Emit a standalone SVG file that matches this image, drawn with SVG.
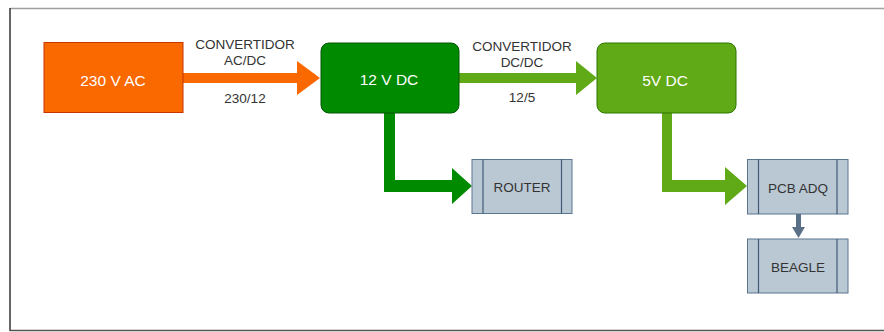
<svg xmlns="http://www.w3.org/2000/svg" width="884" height="332" viewBox="0 0 884 332">
<style>
.lbl{font-family:"Liberation Sans",Arial,sans-serif;font-size:13.5px;fill:#333;text-anchor:middle}
.big{font-family:"Liberation Sans",Arial,sans-serif;font-size:15.5px;fill:#fff;text-anchor:middle}
.proc{fill:#bac8d3;stroke:#5b7590;stroke-width:1}
.inner{stroke:#3f5a75;stroke-width:1.2}
</style>
<rect width="884" height="332" fill="#fff"/>
<line x1="10" y1="8.5" x2="884" y2="8.5" stroke="#a0a0a0" stroke-width="1.5"/>
<line x1="10" y1="8" x2="10" y2="331" stroke="#333" stroke-width="1.5"/>
<line x1="10" y1="330.5" x2="884" y2="330.5" stroke="#555" stroke-width="1.5"/>
<g id="connectors">
<polygon points="183,73 297,73 297,61 320,78 297,95 297,83 183,83" fill="#fa6800"/>
<polygon points="459,73 576,73 576,61 597,78 576,95 576,83 459,83" fill="#60a917"/>
<polygon points="384,113 395,113 395,180 452,180 452,168 472,186 452,204 452,192 384,192" fill="#008a00"/>
<polygon points="662,113 672,113 672,180 725,180 725,167 747,186 725,205 725,192 662,192" fill="#60a917"/>
<polygon points="796,214 801,214 801,227 805,227 798.5,238 792,227 796,227" fill="#5a6f88"/>
<text class="lbl" x="245" y="48.5">CONVERTIDOR</text>
<text class="lbl" x="245" y="65">AC/DC</text>
<text class="lbl" x="245" y="103">230/12</text>
<text class="lbl" x="522" y="50.5">CONVERTIDOR</text>
<text class="lbl" x="522" y="67">DC/DC</text>
<text class="lbl" x="522" y="101.5">12/5</text>
</g>
<g id="ac230">
<rect x="44" y="42.5" width="139" height="70" fill="#fa6800" stroke="#c73500"/>
<text class="big" x="113" y="85.5">230 V AC</text>
</g>
<g id="dc12">
<rect x="321" y="43" width="138" height="70" rx="8" fill="#008a00" stroke="#005700"/>
<text class="big" x="389" y="85">12 V DC</text>
</g>
<g id="dc5">
<rect x="597" y="43" width="139" height="70" rx="8" fill="#60a917" stroke="#2d7600"/>
<text class="big" x="665" y="85.5">5V DC</text>
</g>
<g id="router">
<rect class="proc" x="472" y="159.5" width="100" height="54"/>
<line class="inner" x1="483" y1="159.5" x2="483" y2="213.5"/>
<line class="inner" x1="561.5" y1="159.5" x2="561.5" y2="213.5"/>
<text class="lbl" x="522" y="192">ROUTER</text>
</g>
<g id="pcbadq">
<rect class="proc" x="747.5" y="159.5" width="100.5" height="54.5"/>
<line class="inner" x1="758.5" y1="159.5" x2="758.5" y2="214"/>
<line class="inner" x1="837" y1="159.5" x2="837" y2="214"/>
<text class="lbl" x="798" y="193">PCB ADQ</text>
</g>
<g id="beagle">
<rect class="proc" x="747.5" y="239" width="100.5" height="54"/>
<line class="inner" x1="758.5" y1="239" x2="758.5" y2="293"/>
<line class="inner" x1="837" y1="239" x2="837" y2="293"/>
<text class="lbl" x="798" y="272">BEAGLE</text>
</g>
</svg>
